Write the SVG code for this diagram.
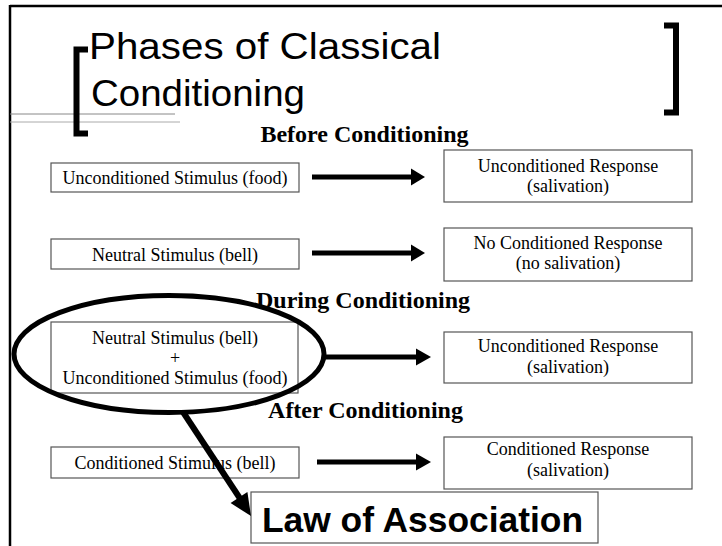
<svg xmlns="http://www.w3.org/2000/svg" width="722" height="546" viewBox="0 0 722 546">
<style>
.box{fill:#fff;stroke:#555;stroke-width:1.2}
.t{font-family:"Liberation Serif","Times New Roman",serif;font-size:18px;fill:#000;text-anchor:middle}
.h{font-family:"Liberation Serif","Times New Roman",serif;font-size:24px;font-weight:bold;fill:#000;text-anchor:middle}
.title{font-family:"Liberation Sans",Arial,sans-serif;font-size:37px;fill:#000}
.ln{stroke:#000;stroke-width:5;fill:none}
</style>
<rect width="722" height="546" fill="#fff"/>
<g id="frame">
<line x1="10" y1="6" x2="722" y2="6" stroke="#000" stroke-width="2.5"/>
<line x1="10" y1="5" x2="10" y2="546" stroke="#000" stroke-width="2.5"/>
<line x1="10" y1="114" x2="175" y2="114" stroke="#888" stroke-width="1"/>
<line x1="10" y1="122" x2="180" y2="122" stroke="#aaa" stroke-width="1"/>
<path d="M88,49.5 H76.5 V133.5 H88" fill="none" stroke="#000" stroke-width="6"/>
<path d="M664,25.5 H676 V112.5 H664" fill="none" stroke="#000" stroke-width="6"/>
</g>
<g id="title">
<text class="title" x="89" y="59" textLength="352" lengthAdjust="spacingAndGlyphs">Phases of Classical</text>
<text class="title" x="91" y="106" textLength="214" lengthAdjust="spacingAndGlyphs">Conditioning</text>
</g>
<g id="headings">
<text class="h" x="364.5" y="142">Before Conditioning</text>
<text class="h" x="363" y="308">During Conditioning</text>
<text class="h" x="365.5" y="418">After Conditioning</text>
</g>
<g id="us-food">
<rect class="box" x="51" y="163" width="248" height="29"/>
<text class="t" x="175" y="184">Unconditioned Stimulus (food)</text>
</g>
<g id="ns-bell">
<rect class="box" x="51" y="239" width="248" height="30"/>
<text class="t" x="175" y="261">Neutral Stimulus (bell)</text>
</g>
<g id="ur-1">
<rect class="box" x="444" y="150" width="248" height="52"/>
<text class="t" x="568" y="172">Unconditioned Response</text>
<text class="t" x="568" y="192">(salivation)</text>
</g>
<g id="ncr">
<rect class="box" x="444" y="228" width="248" height="53"/>
<text class="t" x="568" y="249">No Conditioned Response</text>
<text class="t" x="568" y="269">(no salivation)</text>
</g>
<g id="ns-us">
<rect class="box" x="51" y="322" width="247" height="71"/>
<text class="t" x="175" y="344">Neutral Stimulus (bell)</text>
<text class="t" x="175" y="364">+</text>
<text class="t" x="175" y="384">Unconditioned Stimulus (food)</text>
</g>
<g id="ur-2">
<rect class="box" x="444" y="332" width="248" height="51"/>
<text class="t" x="568" y="352">Unconditioned Response</text>
<text class="t" x="568" y="373">(salivation)</text>
</g>
<g id="cs-bell">
<rect class="box" x="51" y="447" width="248" height="31"/>
<text class="t" x="175" y="469">Conditioned Stimulus (bell)</text>
</g>
<g id="cr">
<rect class="box" x="444" y="437" width="248" height="52"/>
<text class="t" x="568" y="455">Conditioned Response</text>
<text class="t" x="568" y="476">(salivation)</text>
</g>
<g id="ellipse">
<ellipse cx="169" cy="354" rx="155" ry="58.5" fill="none" stroke="#000" stroke-width="5"/>
</g>
<g id="law">
<rect class="box" x="251" y="492" width="347" height="51"/>
<text x="262" y="532" font-family="'Liberation Sans',Arial,sans-serif" font-size="35" font-weight="bold" textLength="321" lengthAdjust="spacingAndGlyphs">Law of Association</text>
</g>
<g id="connectors">
<line class="ln" x1="312" y1="177" x2="412" y2="177"/>
<polygon points="411,168.5 425,177 411,185.5"/>
<line class="ln" x1="312" y1="253" x2="412" y2="253"/>
<polygon points="411,244.5 425,253 411,261.5"/>
<line class="ln" x1="325" y1="357" x2="418" y2="357"/>
<polygon points="416,348.5 431,357 416,365.5"/>
<line class="ln" x1="317" y1="462" x2="418" y2="462"/>
<polygon points="416,453.5 431,462 416,470.5"/>
<line x1="183" y1="412" x2="241" y2="500" stroke="#000" stroke-width="6"/>
<polygon points="230.6,503.1 251,516 247.4,492.1"/>
</g>
</svg>
